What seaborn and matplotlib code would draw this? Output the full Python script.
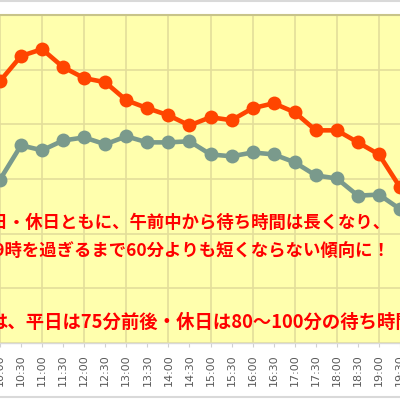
import numpy as np
import pandas as pd
import matplotlib.pyplot as plt
import seaborn as sns
from matplotlib.lines import Line2D

# 30-minute slots (10:00 sits on the left edge of the cropped chart)
times = ["10:00", "10:30", "11:00", "11:30", "12:00", "12:30", "13:00", "13:30",
         "14:00", "14:30", "15:00", "15:30", "16:00", "16:30", "17:00", "17:30",
         "18:00", "18:30", "19:00", "19:30"]
holiday = [95.8, 105.0, 107.5, 100.9, 96.9, 95.4, 88.8, 85.9, 83.3, 79.6,
           82.6, 81.5, 85.9, 87.7, 84.4, 77.8, 77.8, 73.4, 69.0, 57.0]
weekday = [59.8, 72.3, 70.5, 74.1, 75.2, 72.7, 75.6, 73.4, 73.4, 73.8,
           69.0, 68.3, 69.7, 69.0, 66.1, 61.3, 60.2, 53.9, 54.3, 49.0]
notes = ["平日・休日ともに、午前中から待ち時間は長くなり、",
         "19時を過ぎるまで60分よりも短くならない傾向に！",
         "は、平日は75分前後・休日は80〜100分の待ち時間"]

n = len(times)
df = pd.DataFrame({
    "pos": list(range(n)) * 2,
    "wait": holiday + weekday,
    "day": ["休日"] * n + ["平日"] * n,
})

sns.set_style("white")
plt.rcParams["font.family"] = ["Noto Sans CJK JP", "DejaVu Sans"]

fig = plt.figure(figsize=(4, 4), dpi=100)
fig.patch.set_facecolor("white")
ax = fig.add_axes([0, 1 - 343 / 400, 1, 328 / 400])
ax.set_facecolor("#FFFFAD")

# grid
ax.set_ylim(0, 120)
ax.set_yticks(range(0, 121, 20))
ax.grid(axis="y", color="#E3DE9A", linewidth=1.2)
for i, t in enumerate(times):
    if t.endswith(":00"):
        ax.axvline(i, color="#E3DE9A", linewidth=1.2, zorder=0.5)

sns.lineplot(data=df, x="pos", y="wait", hue="day",
             palette={"休日": "#FF4500", "平日": "#7A9A8C"},
             hue_order=["平日", "休日"],
             marker="o", markersize=10, markeredgewidth=0,
             linewidth=3.3, legend=False, sort=False, ax=ax)

ax.set_xlim(0, 400 / 21.8)
ax.set_xticks(range(n))
ax.set_xticklabels(times, rotation=90, fontsize=8, color="#595959",
                   family="DejaVu Sans")
ax.tick_params(axis="x", length=3, color="#D0D0D0", pad=5, bottom=True)
ax.set_yticklabels([])
ax.tick_params(axis="y", length=0)
ax.set_xlabel("")
ax.set_ylabel("")

for s in ["left", "right"]:
    ax.spines[s].set_visible(False)
ax.spines["top"].set_color("#C8C48A")
ax.spines["top"].set_linewidth(1.5)
ax.spines["bottom"].set_color("#D9D9D9")
ax.spines["bottom"].set_linewidth(1)

# annotation text
txt = dict(color="#FF0000", fontweight="bold", va="center", ha="left")
fig.text(-27 / 400, 1 - 223 / 400, notes[0], fontsize=12.5, **txt)
fig.text(-15 / 400, 1 - 251 / 400, notes[1], fontsize=12.5, **txt)
fig.text(-11 / 400, 1 - 322 / 400, notes[2], fontsize=13.2, **txt)

# chart-area border lines
fig.add_artist(Line2D([0, 1], [0.998, 0.998], color="#D9D9D9", linewidth=1.5))
fig.add_artist(Line2D([0, 1], [0.007, 0.007], color="#D9D9D9", linewidth=1.5))

fig.savefig("out.png", dpi=100)
